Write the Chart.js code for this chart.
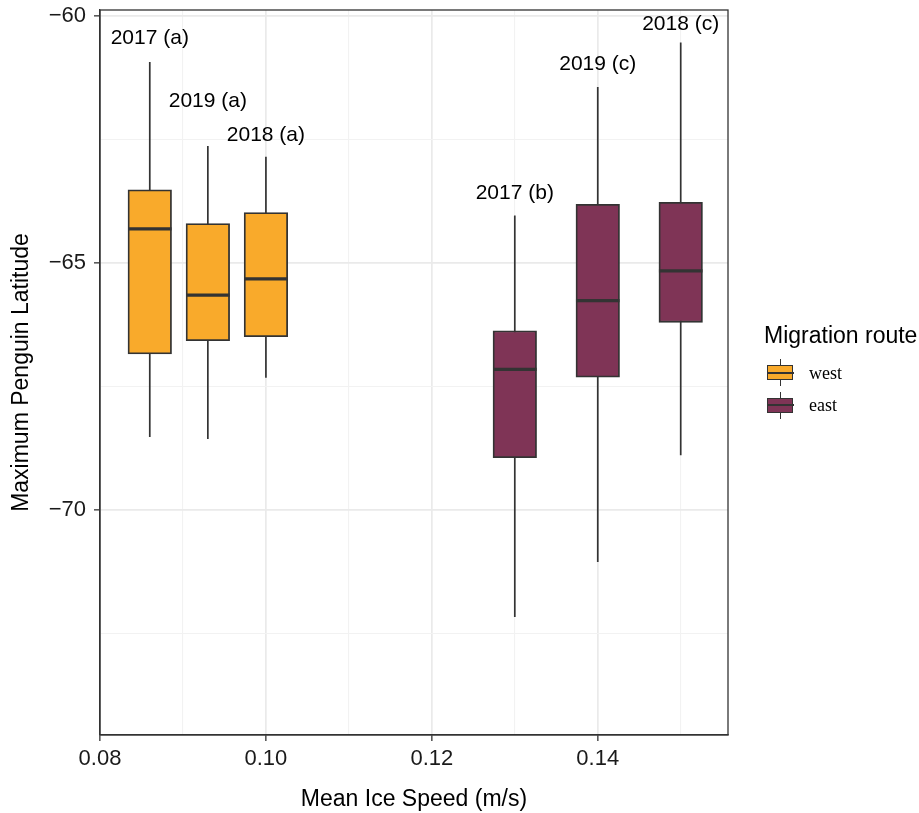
<!DOCTYPE html>
<html>
<head>
<meta charset="utf-8">
<script src="https://cdn.jsdelivr.net/npm/chart.js@4.4.1/dist/chart.umd.min.js"></script>
<style>
  html, body { margin: 0; padding: 0; background: #fff; }
  #wrap { position: relative; width: 919px; height: 813px; }
  #legend { position: absolute; left: 0; top: 0; font-family: 'Liberation Sans', Arial, sans-serif; }
  .ltitle { position: absolute; left: 764px; top: 321px; font-size: 23px; line-height: 28px; color: #000; white-space: nowrap; }
  .lkey { position: absolute; width: 27px; height: 27px; }
  .lkey .wh { position: absolute; left: 12.5px; top: 0; width: 1.6px; height: 27px; background: #333; }
  .lkey .bx { position: absolute; left: 0; top: 6px; width: 24px; height: 13px; border: 1.5px solid #333; }
  .lkey .md { position: absolute; left: 0; top: 12.5px; width: 27px; height: 2px; background: #333; }
  .llab { position: absolute; left: 809px; font-family: 'Liberation Serif', 'Times New Roman', serif; font-size: 18px; line-height: 22px; color: #000; }
</style>
</head>
<body>
<div id="wrap">
  <canvas id="c" width="919" height="813"></canvas>
  <div id="legend"></div>
</div>
<script>
// ---------- data ----------
const ROUTES = ['west', 'east'];
const ROUTE_COLORS = ['#F9AA2B', '#7F3456'];

const WEST_X      = [0.086, 0.093, 0.100];
const WEST_MIN    = [-68.52, -68.56, -67.32];
const WEST_Q1     = [-66.84, -66.57, -66.49];
const WEST_MED    = [-64.31, -65.65, -65.32];
const WEST_Q3     = [-63.52, -64.20, -63.98];
const WEST_MAX    = [-60.93, -62.63, -62.85];
const WEST_LABELS = ['2017 (a)', '2019 (a)', '2018 (a)'];
const WEST_LABEL_Y = [-60.46, -61.72, -62.41];

const EAST_X      = [0.130, 0.140, 0.150];
const EAST_MIN    = [-72.16, -71.05, -68.89];
const EAST_Q1     = [-68.94, -67.31, -66.20];
const EAST_MED    = [-67.15, -65.76, -65.16];
const EAST_Q3     = [-66.37, -63.81, -63.77];
const EAST_MAX    = [-64.04, -61.44, -60.54];
const EAST_LABELS = ['2017 (b)', '2019 (c)', '2018 (c)'];
const EAST_LABEL_Y = [-63.59, -60.98, -60.17];

const X_MAJOR = [0.08, 0.10, 0.12, 0.14];
const X_MINOR = [0.09, 0.11, 0.13, 0.15];
const Y_MAJOR = [-60, -65, -70];
const Y_MINOR = [-62.5, -67.5, -72.5];

const X_MIN = 0.08, X_MAX = 0.1557;
const Y_MIN = -74.55, Y_MAX = -59.88;
const BOX_WIDTH = 0.00525;   // in x data units

// ---------- layout constants ----------
const PLOT_LEFT = 100, PLOT_TOP = 10, PLOT_RIGHT = 728, PLOT_BOTTOM = 735;
const W = 919, H = 813;
const BAR_PX = BOX_WIDTH / (X_MAX - X_MIN) * (PLOT_RIGHT - PLOT_LEFT);

const FONT = "'Liberation Sans', Arial, sans-serif";
const INK = '#333333';

// ---------- build datasets ----------
function boxes(xs, q1, q3) { return xs.map((x, i) => ({ x: x, y: [q1[i], q3[i]] })); }
function whiskers(xs, lo, hi) {
  const out = [];
  xs.forEach((x, i) => { out.push({ x, y: hi[i] }, { x, y: lo[i] }, { x, y: null }); });
  return out;
}
function medians(xs, med) {
  const out = [];
  xs.forEach((x, i) => { out.push({ x: x - BOX_WIDTH / 2, y: med[i] }, { x: x + BOX_WIDTH / 2, y: med[i] }, { x, y: null }); });
  return out;
}
const groups = [
  { xs: WEST_X, lo: WEST_MIN, q1: WEST_Q1, med: WEST_MED, q3: WEST_Q3, hi: WEST_MAX, labels: WEST_LABELS, ly: WEST_LABEL_Y },
  { xs: EAST_X, lo: EAST_MIN, q1: EAST_Q1, med: EAST_MED, q3: EAST_Q3, hi: EAST_MAX, labels: EAST_LABELS, ly: EAST_LABEL_Y }
];

const datasets = [];
groups.forEach((g, k) => {
  datasets.push({
    type: 'line', label: ROUTES[k] + ' whiskers', data: whiskers(g.xs, g.lo, g.hi),
    borderColor: INK, borderWidth: 1.7, pointRadius: 0, spanGaps: false, order: 3
  });
  datasets.push({
    type: 'bar', label: ROUTES[k], data: boxes(g.xs, g.q1, g.q3),
    backgroundColor: ROUTE_COLORS[k], borderColor: INK, borderWidth: 1.8, borderSkipped: false,
    barThickness: BAR_PX, grouped: false, order: 2
  });
  datasets.push({
    type: 'line', label: ROUTES[k] + ' median', data: medians(g.xs, g.med),
    borderColor: INK, borderWidth: 3.2, pointRadius: 0, spanGaps: false, borderCapStyle: 'butt', order: 1
  });
});

const isIn = (arr, v) => arr.some(a => Math.abs(a - v) < 1e-9);
const fmtNeg = v => (v < 0 ? '\u2212' + Math.abs(v) : String(v));

const panelPlugin = {
  id: 'panel',
  afterDatasetsDraw(chart) {
    const { ctx, chartArea: a, scales } = chart;
    ctx.save();
    ctx.font = '21px ' + FONT;
    ctx.fillStyle = '#000';
    ctx.textAlign = 'center';
    ctx.textBaseline = 'middle';
    groups.forEach(g => {
      g.xs.forEach((x, i) => {
        ctx.fillText(g.labels[i], scales.x.getPixelForValue(x), scales.y.getPixelForValue(g.ly[i]));
      });
    });
    ctx.strokeStyle = INK;
    ctx.lineWidth = 1.3;
    ctx.strokeRect(a.left, a.top, a.right - a.left, a.bottom - a.top);
    ctx.restore();
  }
};

new Chart(document.getElementById('c'), {
  type: 'bar',
  data: { datasets },
  options: {
    responsive: false,
    animation: false,
    devicePixelRatio: 1,
    layout: { padding: { top: PLOT_TOP, right: W - PLOT_RIGHT, left: 0, bottom: 0 } },
    plugins: { legend: { display: false }, tooltip: { enabled: false } },
    scales: {
      x: {
        type: 'linear', min: X_MIN, max: X_MAX, offset: false,
        afterBuildTicks: s => { s.ticks = X_MAJOR.concat(X_MINOR).sort((a, b) => a - b).map(v => ({ value: v })); },
        afterFit: s => { s.height = H - PLOT_BOTTOM; s.paddingLeft = 0; s.paddingRight = 0; },
        ticks: {
          callback: v => isIn(X_MAJOR, v) ? v.toFixed(2) : '',
          font: { family: FONT, size: 22 }, color: '#1a1a1a', padding: 5, maxRotation: 0, autoSkip: false
        },
        grid: {
          offset: false,
          color: c => isIn(X_MAJOR, c.tick.value) ? '#EAEAEA' : '#F2F2F2',
          lineWidth: c => isIn(X_MAJOR, c.tick.value) ? 1.7 : 1.1,
          tickColor: c => isIn(X_MAJOR, c.tick.value) ? INK : 'rgba(0,0,0,0)',
          tickWidth: 1.3, tickLength: 6, drawTicks: true
        },
        border: { display: true, color: INK, width: 1.3 },
        title: { display: true, text: 'Mean Ice Speed (m/s)', font: { family: FONT, size: 23 }, color: '#000', padding: { top: 0, bottom: 0 } }
      },
      y: {
        type: 'linear', min: Y_MIN, max: Y_MAX,
        afterBuildTicks: s => { s.ticks = Y_MAJOR.concat(Y_MINOR).sort((a, b) => a - b).map(v => ({ value: v })); },
        afterFit: s => { s.width = PLOT_LEFT; s.paddingTop = 0; s.paddingBottom = 0; },
        ticks: {
          callback: v => isIn(Y_MAJOR, v) ? fmtNeg(v) : '',
          font: { family: FONT, size: 22 }, color: '#1a1a1a', padding: 8, autoSkip: false
        },
        grid: {
          color: c => isIn(Y_MAJOR, c.tick.value) ? '#EAEAEA' : '#F2F2F2',
          lineWidth: c => isIn(Y_MAJOR, c.tick.value) ? 1.7 : 1.1,
          tickColor: c => isIn(Y_MAJOR, c.tick.value) ? INK : 'rgba(0,0,0,0)',
          tickWidth: 1.3, tickLength: 6, drawTicks: true
        },
        border: { display: true, color: INK, width: 1.3 },
        title: { display: true, text: 'Maximum Penguin Latitude', font: { family: FONT, size: 23 }, color: '#000', padding: { top: 8, bottom: 0 } }
      }
    }
  },
  plugins: [panelPlugin]
});

// ---------- legend (HTML) ----------
const legend = document.getElementById('legend');
const title = document.createElement('div');
title.className = 'ltitle';
title.textContent = 'Migration route';
legend.appendChild(title);
const KEY_TOP = [359, 391.5];
ROUTES.forEach((r, i) => {
  const key = document.createElement('div');
  key.className = 'lkey';
  key.style.left = '767px';
  key.style.top = KEY_TOP[i] + 'px';
  key.innerHTML = '<div class="wh"></div><div class="bx" style="background:' + ROUTE_COLORS[i] + '"></div><div class="md"></div>';
  legend.appendChild(key);
  const lab = document.createElement('div');
  lab.className = 'llab';
  lab.style.top = (KEY_TOP[i] + 2.5) + 'px';
  lab.textContent = r;
  legend.appendChild(lab);
});
</script>
</body>
</html>
